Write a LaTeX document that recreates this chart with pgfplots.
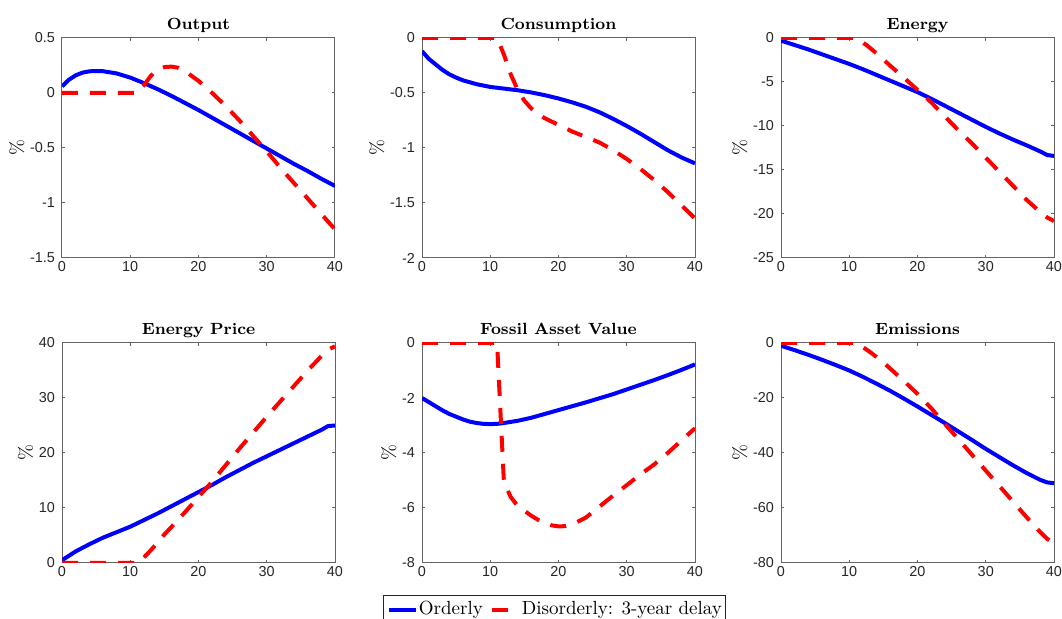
\documentclass[border=0pt]{standalone}
\usepackage{pgfplots}
\pgfplotsset{compat=1.18}
\usepackage{fontspec}
\newfontfamily\tickfont{Liberation Sans}
\definecolor{axgray}{RGB}{38,38,38}
\definecolor{boxgray}{RGB}{100,100,100}

\pgfplotsset{
  irf/.style={
    scale only axis, width=136.5pt, height=110pt, anchor=south west,
    xmin=0, xmax=40, xtick={0,10,20,30,40},
    tick align=inside, major tick length=1.5pt,
    xtick pos=both, ytick pos=both,
    axis line style={draw=boxgray, line width=0.5pt},
    tick style={draw=boxgray, line width=0.5pt},
    tick label style={font=\tickfont\fontsize{7.2}{8.6}\selectfont, text=axgray},
    /pgf/number format/assume math mode=true,
    scaled y ticks=false,
    every axis title/.style={at={(0.5,1)}, anchor=base, yshift=4pt,
      font=\bfseries\fontsize{8.1}{10}\selectfont},
    ylabel={\%}, ylabel style={font=\fontsize{9.5}{10}\selectfont, yshift=-4pt},
    xticklabel style={anchor=base, yshift=-7pt},
  },
  ord/.style={blue, line width=2pt, line join=round},
  dis/.style={red, line width=2pt, line join=round, dash pattern=on 8pt off 6pt},
}

\begin{document}
\begin{tikzpicture}
\useasboundingbox (0,0) rectangle (531pt,309.5pt);

% Output
\begin{axis}[irf, at={(31pt,180.5pt)}, title={Output},
  ymin=-1.5, ymax=0.5, ytick={-1.5,-1,-0.5,0,0.5}]
\addplot[ord] coordinates {(0,0.06)(1,0.12)(2,0.16)(3,0.185)(4,0.197)(5,0.2)(6,0.198)(8,0.178)(10,0.14)(12,0.09)(14,0.035)(16,-0.025)(18,-0.09)(20,-0.155)(22,-0.225)(24,-0.295)(26,-0.365)(28,-0.435)(30,-0.505)(32,-0.575)(34,-0.645)(36,-0.71)(38,-0.78)(40,-0.845)};
\addplot[dis] coordinates {(0,0)(11,0)(12,0.07)(13,0.155)(14,0.21)(15,0.235)(16,0.24)(17,0.23)(18,0.2)(20,0.11)(22,0.0)(24,-0.12)(26,-0.25)(28,-0.39)(30,-0.53)(32,-0.68)(34,-0.82)(36,-0.96)(38,-1.1)(40,-1.24)};
\end{axis}

% Consumption
\begin{axis}[irf, at={(211pt,180.5pt)}, title={Consumption},
  ymin=-2, ymax=0, ytick={-2,-1.5,-1,-0.5,0}]
\addplot[ord] coordinates {(0,-0.12)(1,-0.19)(2,-0.24)(3,-0.29)(4,-0.33)(5,-0.36)(6,-0.385)(8,-0.42)(10,-0.445)(12,-0.46)(14,-0.475)(16,-0.495)(18,-0.52)(20,-0.55)(22,-0.585)(24,-0.625)(26,-0.675)(28,-0.735)(30,-0.8)(32,-0.87)(34,-0.945)(36,-1.02)(38,-1.085)(40,-1.14)};
\addplot[dis] coordinates {(0,0)(11,0)(12,-0.15)(13,-0.33)(14,-0.47)(15,-0.57)(16,-0.64)(17,-0.69)(18,-0.73)(20,-0.79)(22,-0.85)(24,-0.9)(26,-0.95)(28,-1.02)(30,-1.1)(32,-1.19)(34,-1.29)(36,-1.4)(38,-1.52)(40,-1.64)};
\end{axis}

% Energy
\begin{axis}[irf, at={(390.5pt,180.5pt)}, title={Energy},
  ymin=-25, ymax=0, ytick={-25,-20,-15,-10,-5,0}]
\addplot[ord] coordinates {(0,-0.3)(2,-0.8)(4,-1.3)(6,-1.85)(8,-2.4)(10,-2.95)(12,-3.55)(14,-4.2)(16,-4.85)(18,-5.5)(20,-6.15)(22,-6.9)(24,-7.7)(26,-8.5)(28,-9.3)(30,-10.1)(32,-10.85)(34,-11.55)(36,-12.2)(38,-12.9)(39,-13.3)(40,-13.4)};
\addplot[dis] coordinates {(0,0)(11,0)(12,-0.5)(13,-1.1)(14,-1.75)(15,-2.45)(16,-3.15)(18,-4.5)(20,-5.9)(22,-7.3)(24,-8.9)(26,-10.5)(28,-12.0)(30,-13.6)(32,-15.2)(34,-16.8)(36,-18.4)(38,-19.8)(39,-20.4)(40,-20.8)};
\end{axis}

% Energy Price
\begin{axis}[irf, at={(31pt,28pt)}, title={Energy Price},
  ymin=0, ymax=40, ytick={0,10,20,30,40}]
\addplot[ord] coordinates {(0,0.5)(2,2.1)(4,3.4)(5,4.0)(6,4.6)(8,5.6)(10,6.6)(12,7.8)(14,9.0)(16,10.3)(18,11.6)(20,12.9)(22,14.2)(24,15.6)(26,16.9)(28,18.2)(30,19.4)(32,20.6)(34,21.8)(36,23.0)(38,24.2)(39,24.9)(40,25.0)};
\addplot[dis] coordinates {(0,0)(11,0)(12,1.0)(13,2.3)(14,3.7)(15,5.2)(16,6.5)(18,9.2)(20,12.0)(22,14.8)(24,17.8)(26,20.8)(28,23.7)(30,26.6)(32,29.4)(34,32.2)(36,35.0)(38,37.6)(39,38.8)(40,39.4)};
\end{axis}

% Fossil Asset Value
\begin{axis}[irf, at={(211pt,28pt)}, title={Fossil Asset Value},
  ymin=-8, ymax=0, ytick={-8,-6,-4,-2,0},
  legend style={at={(0.487,-0.1455)}, anchor=north, legend columns=2,
    draw=axgray, line width=0.5pt, font=\fontsize{9.5}{11}\selectfont,
    inner xsep=1.5pt, inner ysep=2pt,
    /tikz/every even column/.append style={column sep=3pt},
    nodes={inner xsep=0.5pt, inner ysep=1pt}},
  legend image code/.code={\draw[#1] (0pt,0pt) -- (13.5pt,0pt);}]
\addplot[ord] coordinates {(0,-2.0)(1,-2.15)(2,-2.3)(3,-2.45)(4,-2.58)(5,-2.68)(6,-2.78)(7,-2.86)(8,-2.91)(9,-2.94)(10,-2.95)(11,-2.94)(12,-2.91)(14,-2.83)(16,-2.72)(18,-2.58)(20,-2.44)(22,-2.3)(24,-2.16)(26,-2.01)(28,-1.86)(30,-1.69)(32,-1.52)(34,-1.35)(36,-1.17)(38,-0.98)(40,-0.78)};
\addlegendentry{Orderly}
\addplot[dis] coordinates {(0,0)(11,0)(12,-5.05)(13,-5.6)(14,-5.92)(15,-6.1)(16,-6.28)(17,-6.43)(18,-6.55)(19,-6.63)(20,-6.67)(21,-6.66)(22,-6.6)(24,-6.35)(26,-5.95)(28,-5.55)(30,-5.17)(32,-4.78)(34,-4.42)(36,-4.0)(38,-3.55)(40,-3.1)};
\addlegendentry{Disorderly: 3-year delay}
\end{axis}

% Emissions
\begin{axis}[irf, at={(390.5pt,28pt)}, title={Emissions},
  ymin=-80, ymax=0, ytick={-80,-60,-40,-20,0}]
\addplot[ord] coordinates {(0,-1)(2,-2.6)(4,-4.3)(6,-6.1)(8,-8.0)(10,-10.0)(12,-12.3)(14,-14.8)(16,-17.4)(18,-20.2)(20,-23.1)(22,-26.1)(24,-29.1)(26,-32.2)(28,-35.3)(30,-38.5)(32,-41.5)(34,-44.5)(36,-47.3)(38,-49.8)(39,-50.7)(40,-51.0)};
\addplot[dis] coordinates {(0,0)(11,0)(12,-1.5)(13,-3.2)(14,-5.1)(15,-7.1)(16,-9.3)(18,-13.8)(20,-18.5)(22,-23.7)(24,-29.4)(26,-35.0)(28,-40.7)(30,-46.4)(32,-52.0)(34,-57.7)(36,-63.4)(38,-68.8)(39,-71.2)(40,-72.8)};
\end{axis}
\end{tikzpicture}
\end{document}
